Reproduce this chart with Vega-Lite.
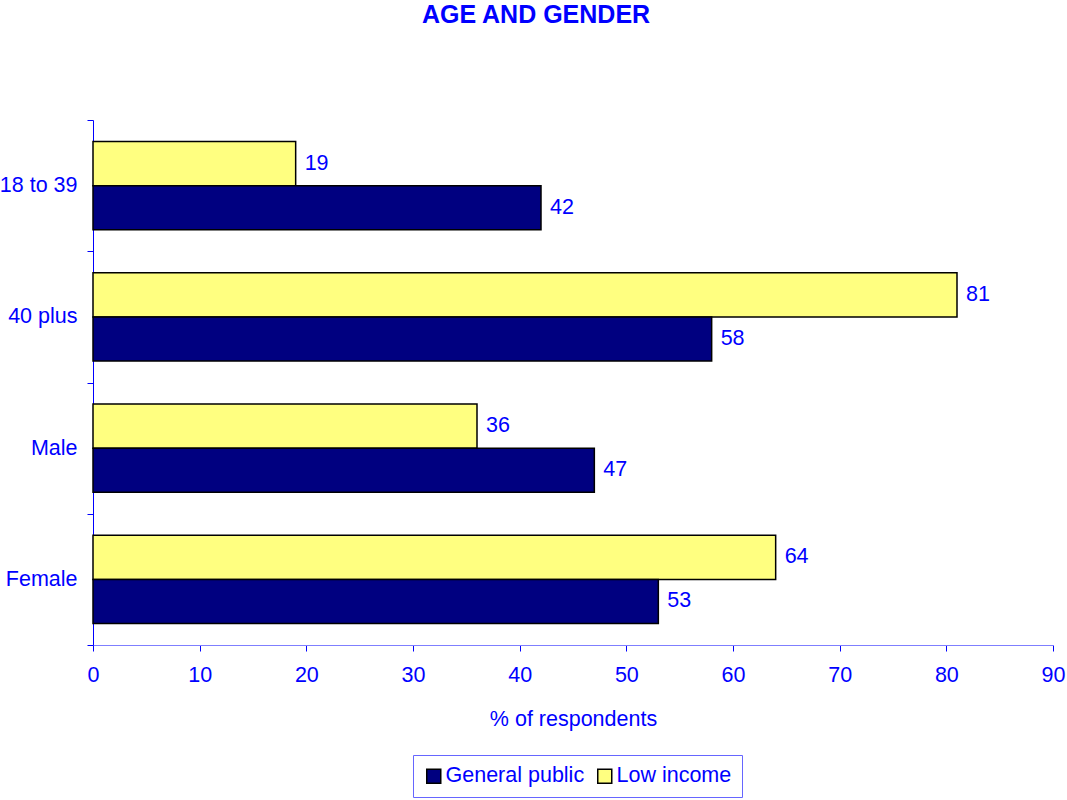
{
  "$schema": "https://vega.github.io/schema/vega-lite/v6.json",
  "width": 960,
  "height": 525,
  "autosize": {"type": "none"},
  "padding": {"left": 93, "top": 120, "right": 14, "bottom": 155},
  "background": "white",
  "title": {"text": "AGE AND GENDER", "font": "Liberation Sans", "fontSize": 25, "fontWeight": "bold", "color": "#0000FF", "anchor": "middle", "dx": -37, "offset": 81},
  "data": {"values": [
    {"category": "18 to 39", "series": "Low income", "value": 19},
    {"category": "18 to 39", "series": "General public", "value": 42},
    {"category": "40 plus", "series": "Low income", "value": 81},
    {"category": "40 plus", "series": "General public", "value": 58},
    {"category": "Male", "series": "Low income", "value": 36},
    {"category": "Male", "series": "General public", "value": 47},
    {"category": "Female", "series": "Low income", "value": 64},
    {"category": "Female", "series": "General public", "value": 53}
  ]},
  "encoding": {
    "y": {"field": "category", "type": "nominal", "sort": ["18 to 39", "40 plus", "Male", "Female"],
      "scale": {"paddingInner": 0, "paddingOuter": 0},
      "axis": {"title": null, "labelFont": "Liberation Sans", "labelFontSize": 21.5, "labelColor": "#0000FF", "domainColor": "#0000FF", "tickColor": "#0000FF", "tickSize": 6, "tickBand": "extent", "labelPadding": 10, "grid": false}},
    "x": {"field": "value", "type": "quantitative", "scale": {"domain": [0, 90]},
      "axis": {"values": [0, 10, 20, 30, 40, 50, 60, 70, 80, 90], "grid": false, "labelFlush": false, "title": "% of respondents", "titleFont": "Liberation Sans", "titleFontSize": 21.5, "titleFontWeight": "normal", "titleColor": "#0000FF", "titlePadding": 23, "labelFont": "Liberation Sans", "labelFontSize": 21.5, "labelColor": "#0000FF", "domainColor": "#7F7FFF", "tickColor": "#0000FF", "tickSize": 6, "labelPadding": 13}},
    "yOffset": {"field": "series", "sort": ["Low income", "General public"], "scale": {"paddingInner": 0, "paddingOuter": 0.49}}
  },
  "layer": [
    {"mark": {"type": "bar", "stroke": "black", "strokeWidth": 1.5},
      "encoding": {"color": {"field": "series", "type": "nominal",
        "scale": {"domain": ["General public", "Low income"], "range": ["#000080", "#FFFF80"]},
        "legend": {"orient": "none", "legendX": 320, "legendY": 635, "direction": "horizontal", "columns": 2, "title": null, "strokeColor": "#6666FF", "padding": 10, "symbolType": "square", "symbolSize": 196, "symbolStrokeColor": "black", "symbolStrokeWidth": 1.5, "symbolOpacity": 1, "labelFont": "Liberation Sans", "labelFontSize": 21.5, "labelColor": "#0000FF", "columnPadding": 9, "labelOffset": 1, "labelLimit": 300}}}},
    {"mark": {"type": "text", "align": "left", "baseline": "middle", "dx": 9, "font": "Liberation Sans", "fontSize": 21.5, "color": "#0000FF"},
      "encoding": {"text": {"field": "value", "type": "quantitative"}}}
  ],
  "config": {"view": {"stroke": null}}
}
